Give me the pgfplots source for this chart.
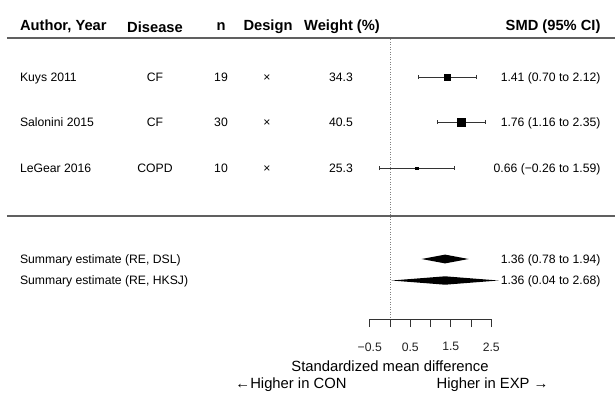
\documentclass[border=0pt]{standalone}
\usepackage{fontspec}
\setmainfont{Liberation Sans}
\usepackage{pgfplots}
\pgfplotsset{compat=1.18}
\newcommand\rowf{\fontsize{12.2}{14}\selectfont}
\newcommand\hdf{\fontsize{14.7}{17}\selectfont\bfseries}
\newcommand\labf{\fontsize{14.8}{17}\selectfont}
\definecolor{txt}{HTML}{222222}
\definecolor{ln}{HTML}{333333}
\begin{document}
\begin{tikzpicture}
\begin{axis}[
  at={(0,0)}, anchor=south west,
  width=615pt, height=392pt, scale only axis,
  xmin=-9.62963, xmax=5.55556,
  ymin=0, ymax=392, y dir=reverse,
  hide axis, clip=false,
  every node/.style={text=txt, inner sep=0pt},
]
% rules
\addplot[draw=gray!75!black, line width=1.6pt] coordinates {(-9.4568,38) (5.5556,38)};
\addplot[draw=gray!75!black, line width=1.6pt] coordinates {(-9.4568,215.7) (5.5556,215.7)};
% null line
\addplot[draw=gray, line width=0.8pt, dash pattern=on 1.2pt off 1.3pt] coordinates {(0,39) (0,319)};

% headers
\node[anchor=base west] at (axis cs:-9.2222,30.5) {\hdf Author, Year};
\node[anchor=base] at (axis cs:-5.8025,32.5) {\hdf Disease};
\node[anchor=base] at (axis cs:-4.1728,30.5) {\hdf n};
\node[anchor=base] at (axis cs:-3.0123,30.5) {\hdf Design};
\node[anchor=base] at (axis cs:-1.1852,30.5) {\hdf Weight (\%)};
\node[anchor=base east] at (axis cs:5.2840,30.5) {\hdf SMD (95\% CI)};

% study rows
\node[anchor=base west] at (axis cs:-9.2222,81.3) {\rowf Kuys 2011};
\node[anchor=base west] at (axis cs:-9.2222,126.3) {\rowf Salonini 2015};
\node[anchor=base west] at (axis cs:-9.2222,172.3) {\rowf LeGear 2016};
\node[anchor=base] at (axis cs:-5.8025,81.3) {\rowf CF};
\node[anchor=base] at (axis cs:-5.8025,126.3) {\rowf CF};
\node[anchor=base] at (axis cs:-5.8025,172.3) {\rowf COPD};
\node[anchor=base] at (axis cs:-4.1728,81.3) {\rowf 19};
\node[anchor=base] at (axis cs:-4.1728,126.3) {\rowf 30};
\node[anchor=base] at (axis cs:-4.1728,172.3) {\rowf 10};
\node[anchor=base] at (axis cs:-3.0370,81.3) {\rowf ×};
\node[anchor=base] at (axis cs:-3.0370,126.3) {\rowf ×};
\node[anchor=base] at (axis cs:-3.0370,172.3) {\rowf ×};
\node[anchor=base] at (axis cs:-1.2099,81.3) {\rowf 34.3};
\node[anchor=base] at (axis cs:-1.2099,126.3) {\rowf 40.5};
\node[anchor=base] at (axis cs:-1.2099,172.3) {\rowf 25.3};
\node[anchor=base east] at (axis cs:5.2840,81.3) {\rowf 1.41 (0.70 to 2.12)};
\node[anchor=base east] at (axis cs:5.2840,126.3) {\rowf 1.76 (1.16 to 2.35)};
\node[anchor=base east] at (axis cs:5.2840,172.3) {\rowf 0.66 (−0.26 to 1.59)};

% CIs
\addplot[draw=ln, line width=0.7pt, mark=none,
  error bars/.cd, x dir=both, x explicit,
  error bar style={draw=ln, line width=0.7pt},
  error mark options={draw=ln, line width=0.7pt, mark size=2.2pt, rotate=90}]
  coordinates {
  (1.41,77) += (0.71,0) -= (0.71,0)
  };
\addplot[draw=ln, line width=0.7pt, mark=none,
  error bars/.cd, x dir=both, x explicit,
  error bar style={draw=ln, line width=0.7pt},
  error mark options={draw=ln, line width=0.7pt, mark size=2.2pt, rotate=90}]
  coordinates {
  (1.76,122) += (0.59,0) -= (0.60,0)
  };
\addplot[draw=ln, line width=0.7pt, mark=none,
  error bars/.cd, x dir=both, x explicit,
  error bar style={draw=ln, line width=0.7pt},
  error mark options={draw=ln, line width=0.7pt, mark size=2.2pt, rotate=90}]
  coordinates {
  (0.66,168) += (0.93,0) -= (0.92,0)
  };
% point estimates
\addplot[only marks, mark=square*, mark size=3.1pt, fill=black, draw=black] coordinates {(1.41,77)};
\addplot[only marks, mark=square*, mark size=4.1pt, fill=black, draw=black] coordinates {(1.76,122)};
\addplot[only marks, mark=square*, mark size=1.2pt, fill=black, draw=black] coordinates {(0.66,168)};

% summaries
\node[anchor=base west] at (axis cs:-9.2222,263.3) {\rowf Summary estimate (RE, DSL)};
\node[anchor=base west] at (axis cs:-9.2222,284.3) {\rowf Summary estimate (RE, HKSJ)};
\node[anchor=base east] at (axis cs:5.2840,263.3) {\rowf 1.36 (0.78 to 1.94)};
\node[anchor=base east] at (axis cs:5.2840,284.3) {\rowf 1.36 (0.04 to 2.68)};
\addplot[fill=black, draw=none] coordinates {(0.78,259) (1.36,254.6) (1.94,259) (1.36,263.4)} -- cycle;
\addplot[fill=black, draw=none] coordinates {(0.04,280.5) (1.36,276.3) (2.68,280.5) (1.36,284.7)} -- cycle;

% axis labels
\node[anchor=base] at (axis cs:0,371) {\labf Standardized mean difference};
\node[anchor=base] at (axis cs:-2.4444,388) {\labf ←Higher in CON};
\node[anchor=base] at (axis cs:2.5309,388) {\labf Higher in EXP →};
\end{axis}

\begin{axis}[
  at={(369.75pt,73pt)}, anchor=south west,
  width=121.5pt, height=20pt, scale only axis,
  xmin=-0.5, xmax=2.5, ymin=0, ymax=1,
  axis x line=bottom, axis y line=none,
  x axis line style={-, draw=ln, line width=0.8pt},
  xtick={-0.5,0,0.5,1,1.5,2,2.5},
  xticklabels={−0.5,,0.5,,1.5,,2.5},
  tick align=outside, major tick length=8pt,
  tick style={draw=ln, line width=0.8pt},
  xticklabel style={font=\rowf, text=txt, yshift=-12pt},
]
\addplot[draw=none] coordinates {(0,0)};
\end{axis}
\pgfresetboundingbox
\path (0,0) rectangle (615pt,392pt);
\end{tikzpicture}
\end{document}
